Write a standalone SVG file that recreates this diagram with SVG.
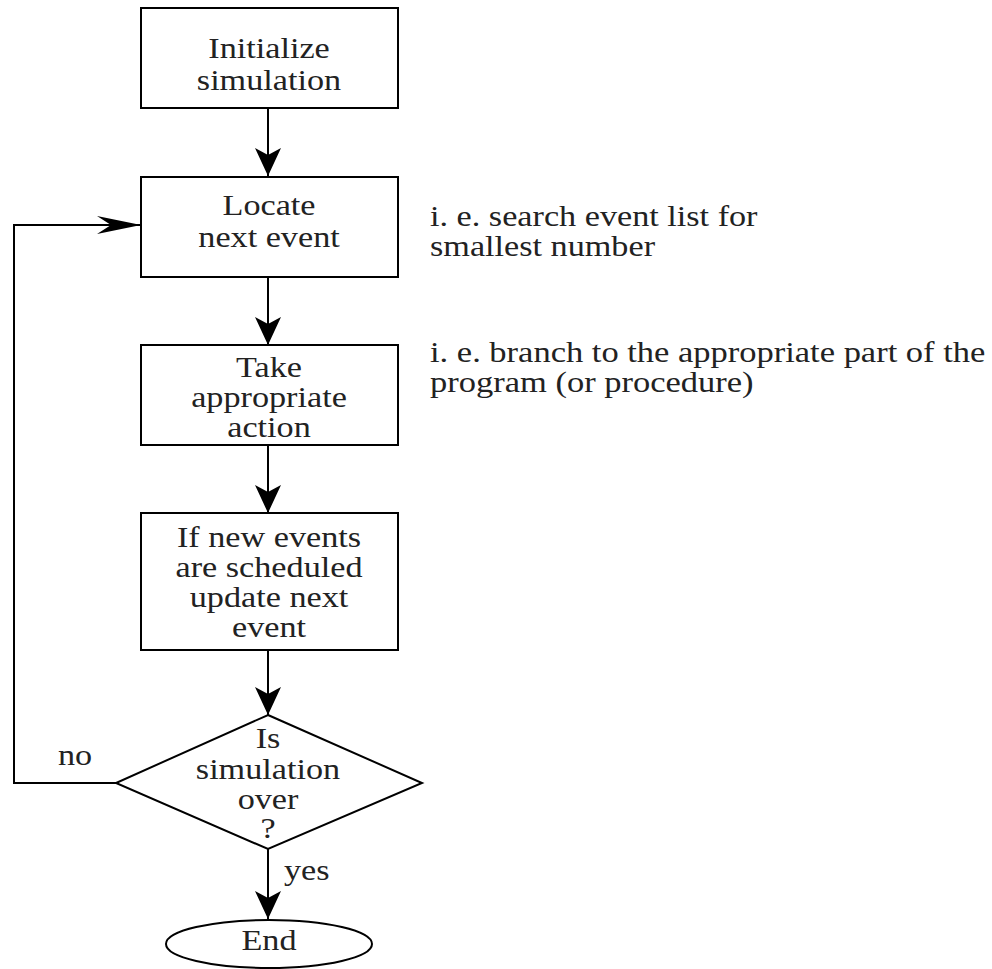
<svg xmlns="http://www.w3.org/2000/svg" width="992" height="969" viewBox="0 0 992 969">
<style>
.box{fill:#fff;stroke:#000;stroke-width:2}
.ln{fill:none;stroke:#000;stroke-width:2}
text{font-family:"Liberation Serif","Times New Roman",serif;font-size:30px;fill:#222}
.c{text-anchor:middle}
</style>
<defs>
<marker id="ah" markerUnits="userSpaceOnUse" markerWidth="30" markerHeight="30" viewBox="-28 -14 30 28" refX="0" refY="0" orient="auto">
<path d="M0,0 L-28,-13 L-21,0 L-28,13 Z" fill="#000"/>
</marker>
<marker id="ahh" markerUnits="userSpaceOnUse" markerWidth="46" markerHeight="22" viewBox="-44 -10 46 20" refX="0" refY="0" orient="auto">
<path d="M0,0 L-44,-9 L-30,0 L-44,9 Z" fill="#000"/>
</marker>
</defs>
<rect width="992" height="969" fill="#fff"/>
<g id="connectors">
<line class="ln" x1="268" y1="108" x2="268" y2="176" marker-end="url(#ah)"/>
<line class="ln" x1="268" y1="277" x2="268" y2="345" marker-end="url(#ah)"/>
<line class="ln" x1="268" y1="445" x2="268" y2="513" marker-end="url(#ah)"/>
<line class="ln" x1="268" y1="650" x2="268" y2="715" marker-end="url(#ah)"/>
<line class="ln" x1="268" y1="849" x2="268" y2="919" marker-end="url(#ah)"/>
<polyline class="ln" points="116,783 14,783 14,225 141,225" marker-end="url(#ahh)"/>
<text transform="translate(75,765) scale(1.14,1)" class="c">no</text>
<text transform="translate(284,880) scale(1.14,1)">yes</text>
</g>
<g id="init">
<rect class="box" x="141" y="8" width="257" height="100"/>
<text transform="translate(269,58) scale(1.14,1)" class="c">Initialize</text>
<text transform="translate(269,90) scale(1.14,1)" class="c">simulation</text>
</g>
<g id="locate">
<rect class="box" x="141" y="177" width="257" height="100"/>
<text transform="translate(269,215) scale(1.14,1)" class="c">Locate</text>
<text transform="translate(269,247) scale(1.14,1)" class="c">next event</text>
</g>
<g id="note1">
<text transform="translate(430,226) scale(1.14,1)">i. e. search event list for</text>
<text transform="translate(430,256) scale(1.14,1)">smallest number</text>
</g>
<g id="take">
<rect class="box" x="141" y="345" width="257" height="100"/>
<text transform="translate(269,377) scale(1.14,1)" class="c">Take</text>
<text transform="translate(269,407) scale(1.14,1)" class="c">appropriate</text>
<text transform="translate(269,437) scale(1.14,1)" class="c">action</text>
</g>
<g id="note2">
<text transform="translate(430,362) scale(1.15,1)">i. e. branch to the appropriate part of the</text>
<text transform="translate(430,392) scale(1.15,1)">program (or procedure)</text>
</g>
<g id="update">
<rect class="box" x="141" y="513" width="257" height="137"/>
<text transform="translate(269,547) scale(1.14,1)" class="c">If new events</text>
<text transform="translate(269,577) scale(1.14,1)" class="c">are scheduled</text>
<text transform="translate(269,607) scale(1.14,1)" class="c">update next</text>
<text transform="translate(269,637) scale(1.14,1)" class="c">event</text>
</g>
<g id="decision">
<polygon class="box" points="268,715 422,783 268,849 116,783"/>
<text transform="translate(268,748) scale(1.14,1)" class="c">Is</text>
<text transform="translate(268,779) scale(1.14,1)" class="c">simulation</text>
<text transform="translate(268,809) scale(1.14,1)" class="c">over</text>
<text transform="translate(268,838) scale(1.14,1)" class="c">?</text>
</g>
<g id="end">
<ellipse class="box" cx="269" cy="944" rx="103" ry="24"/>
<text transform="translate(269,950) scale(1.14,1)" class="c">End</text>
</g>
</svg>
